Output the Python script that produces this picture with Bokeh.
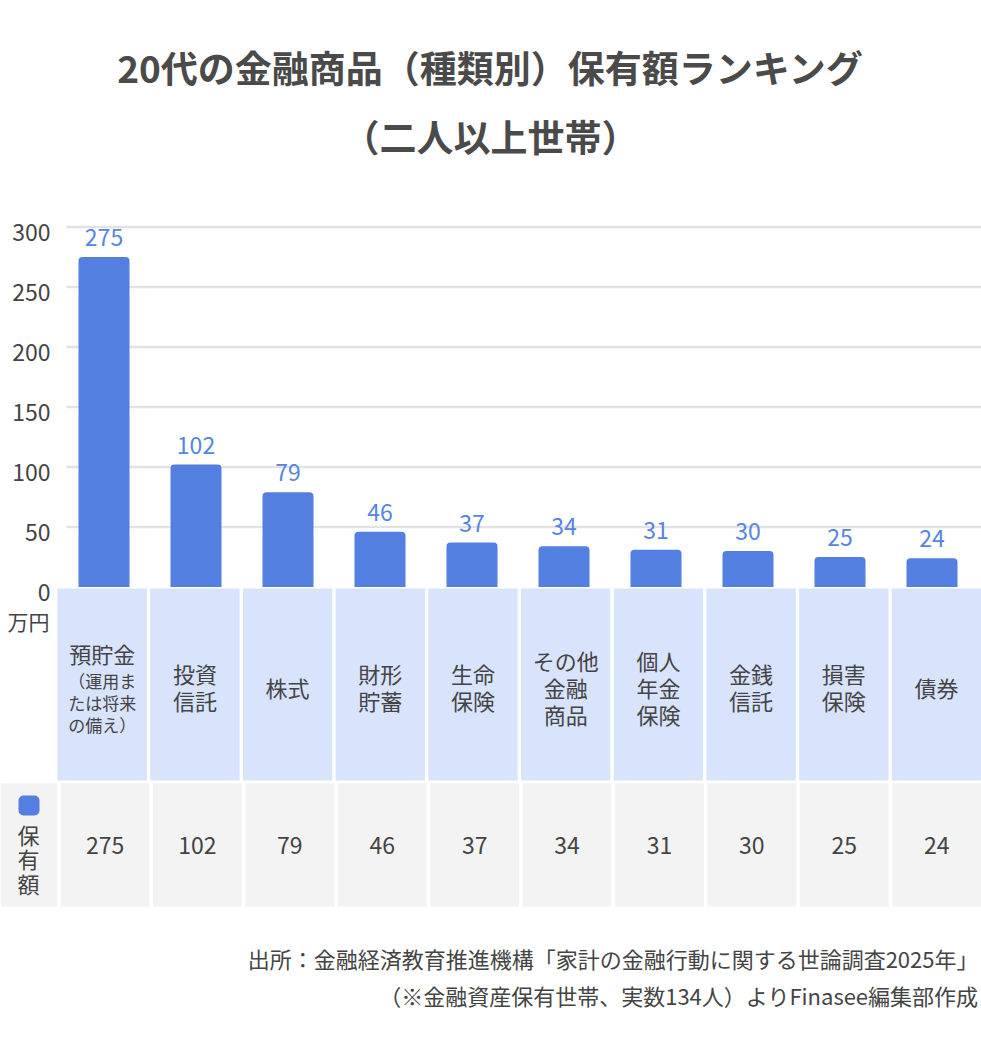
from bokeh.plotting import figure
from bokeh.models import Range1d, ColumnDataSource
from bokeh.core.properties import value
from bokeh.embed import file_html
from bokeh.resources import INLINE

# ---------------- data ----------------
title_lines = ["20代の金融商品（種類別）保有額ランキング", "（二人以上世帯）"]
categories = ["預貯金", "投資信託", "株式", "財形貯蓄", "生命保険",
              "その他金融商品", "個人年金保険", "金銭信託", "損害保険", "債券"]
category_lines = [["預貯金"], ["投資", "信託"], ["株式"], ["財形", "貯蓄"], ["生命", "保険"],
                  ["その他", "金融", "商品"], ["個人", "年金", "保険"], ["金銭", "信託"],
                  ["損害", "保険"], ["債券"]]
deposit_note_lines = ["（運用ま", "たは将来", "の備え）"]
values = [275, 102, 79, 46, 37, 34, 31, 30, 25, 24]
y_ticks = [0, 50, 100, 150, 200, 250, 300]
unit_label = "万円"
series_name = "保有額"
source_lines = ["出所：金融経済教育推進機構「家計の金融行動に関する世論調査2025年」",
                "（※金融資産保有世帯、実数134人）よりFinasee編集部作成"]

# ---------------- style ----------------
FONT = "Noto Sans CJK JP"
TEXT = "#444444"
BAR = "#527fe0"
LABEL = "#5584e4"
GRID = "#e2e2e2"
HEAD_BG = "#d8e3fc"
ROW_BG = "#f3f3f3"

W, H = 981, 1050
ZERO_PX = 586.5
PX_Y = 1.2
BAND0_PX = 57.5
PX_X = 92.0


def xd(px):
    return (px - BAND0_PX) / PX_X


def yd(py):
    return (ZERO_PX - py) / PX_Y


p = figure(width=W, height=H, x_range=Range1d(xd(0), xd(W)), y_range=Range1d(yd(H), yd(0)),
           output_backend="svg", toolbar_location=None, x_axis_type=None, y_axis_type=None,
           min_border=0, outline_line_color=None)
p.grid.visible = False
p.background_fill_color = "white"
p.border_fill_color = "white"

F = value(FONT)
n = len(categories)
xs = [i + 0.5 for i in range(n)]

# title
p.text(x=[xd(490)] * 2, y=[yd(66), yd(135)], text=title_lines, text_font=F,
       text_font_size="37px", text_font_style="bold", text_color="#4a4a4a",
       text_align="center", text_baseline="middle")

# gridlines + tick labels
grid_ticks = [t for t in y_ticks if t > 0]
p.segment(x0=[xd(66)] * len(grid_ticks), x1=[xd(W)] * len(grid_ticks), y0=grid_ticks, y1=grid_ticks,
          line_color=GRID, line_width=2.5)
p.text(x=[xd(50)] * len(y_ticks), y=y_ticks, text=[str(t) for t in y_ticks], text_font=F,
       text_font_size="23px", text_color=TEXT, text_align="right", text_baseline="middle", y_offset=5)

# bars
src = ColumnDataSource(dict(x=xs, v=values, lbl=[str(v) for v in values], cat=categories))
p.vbar(x="x", top="v", bottom=0, width=51 / PX_X, source=src, fill_color=BAR, line_color=None,
       border_radius=(4, 4, 0, 0))
p.text(x="x", y="v", text="lbl", source=src, text_font=F, text_font_size="23px",
       text_color=LABEL, text_align="center", text_baseline="middle", y_offset=-19.5)

# header (category) cells
head_left = [57 + 92.7 * i for i in range(n)]
p.quad(left=[xd(l) for l in head_left], right=[xd(l + 89.4) for l in head_left],
       top=[yd(588)] * n, bottom=[yd(780)] * n, fill_color=HEAD_BG, line_color=None)

cx, cy, ct = [], [], []
nx, ny, nt = [], [], []
for i, lines in enumerate(category_lines):
    c = head_left[i] + 44.7
    if i == 0:
        cx.append(xd(c)); cy.append(yd(652)); ct.append(lines[0])
        for j, s in enumerate(deposit_note_lines):
            nx.append(xd(c)); ny.append(yd(680 + 22 * j)); nt.append(s)
        continue
    k = len(lines)
    for j, s in enumerate(lines):
        cx.append(xd(c)); cy.append(yd(686 + (j - (k - 1) / 2) * 27)); ct.append(s)
p.text(x=cx, y=cy, text=ct, text_font=F, text_font_size="22px", text_color=TEXT,
       text_align="center", text_baseline="middle")
p.text(x=nx, y=ny, text=nt, text_font=F, text_font_size="17px", text_color=TEXT,
       text_align="center", text_baseline="middle")

# unit label
p.text(x=[xd(49)], y=[yd(620)], text=[unit_label], text_font=F, text_font_size="21px",
       text_color=TEXT, text_align="right", text_baseline="middle")

# data row
row_left = [60 + 92.4 * i for i in range(n)]
p.quad(left=[xd(0)] + [xd(l) for l in row_left], right=[xd(57)] + [xd(l + 89.1) for l in row_left],
       top=[yd(782.7)] * (n + 1), bottom=[yd(906)] * (n + 1), fill_color=ROW_BG, line_color=None)
p.quad(left=[xd(18)], right=[xd(39)], top=[yd(795)], bottom=[yd(815)], fill_color=BAR,
       line_color=None, border_radius=5)
p.text(x=[xd(28)] * len(series_name), y=[yd(833 + 24.5 * j) for j in range(len(series_name))],
       text=list(series_name), text_font=F, text_font_size="22px", text_color=TEXT,
       text_align="center", text_baseline="middle")
p.text(x=[xd(l + 44.55) for l in row_left], y=[yd(845)] * n, text=[str(v) for v in values],
       text_font=F, text_font_size="23px", text_color=TEXT, text_align="center",
       text_baseline="middle")

# source
p.text(x=[xd(978)] * 2, y=[yd(957), yd(994)], text=source_lines, text_font=F,
       text_font_size="22px", text_color=TEXT, text_align="right", text_baseline="middle")

open("out.html", "w").write(file_html(p, INLINE))
